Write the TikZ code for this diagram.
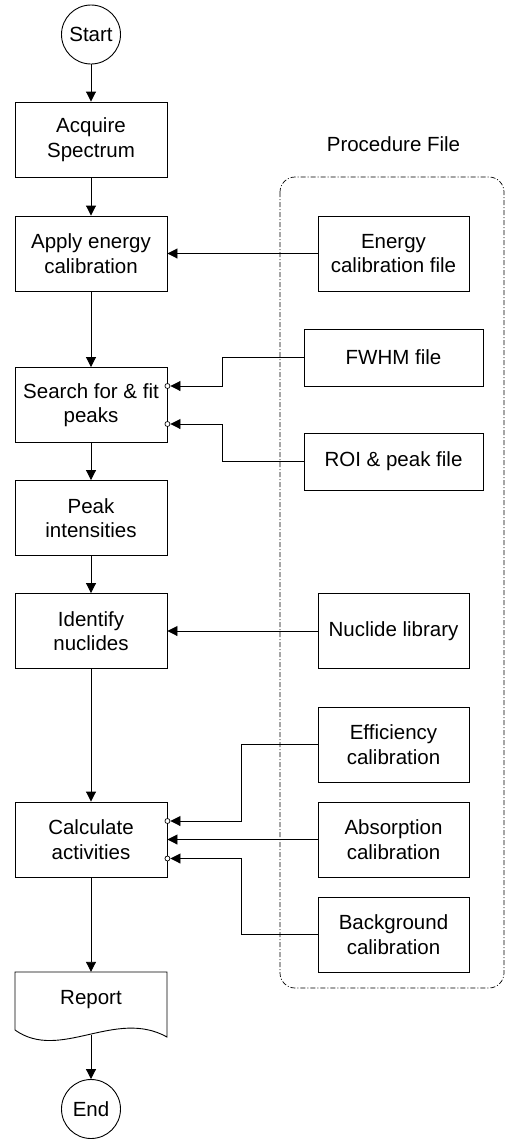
\documentclass[tikz,border=0pt]{standalone}
\usepackage{fontspec}
\setmainfont{Liberation Sans}
\usetikzlibrary{arrows.meta}
\begin{document}
\begin{tikzpicture}[x=1bp,y=-1bp,
  every node/.style={font=\fontsize{20.5bp}{24.5bp}\selectfont, align=center, inner sep=0pt},
  mainbox/.style={draw, line width=0.9bp, minimum width=152bp, minimum height=75bp},
  filebox/.style={draw, line width=0.9bp, minimum width=151bp, minimum height=75bp},
  widebox/.style={draw, line width=0.9bp, minimum width=179bp, minimum height=57bp},
  termnode/.style={draw, circle, line width=0.9bp, minimum size=59bp},
  arr/.style={line width=0.9bp, -{Triangle[length=10bp,width=10bp]}},
  dotc/.style={line width=0.7bp, fill=white},
  frame/.style={line width=0.7bp, dash pattern=on 5bp off 2bp on 1bp off 2bp, rounded corners=15bp}
]
\useasboundingbox (0,0) rectangle (506,1139);

% procedure file frame
\draw[frame] (280,177) rectangle (504,988);
\node (plabel) at (393.5,144) {Procedure File};

% main column
\node[termnode] (start) at (91,34.5) {Start};
\node[mainbox] (acq) at (91,139.5) {Acquire\\Spectrum};
\node[mainbox] (apply) at (91,253.5) {Apply energy\\calibration};
\node[mainbox] (search) at (91,405) {Search for \& fit\\peaks};
\node[mainbox] (peak) at (91,518) {Peak\\intensities};
\node[mainbox] (ident) at (91,631) {Identify\\nuclides};
\node[mainbox] (calc) at (91,839.5) {Calculate\\activities};
\node[minimum width=152bp, minimum height=56bp] (rep) at (91,1000) {Report};
\draw[line width=0.9bp] (15,1030) -- (15,972) -- (167,972) -- (167,1037)
  .. controls (115,1008) and (60,1062) .. (15,1030);
\coordinate (repb) at (91,1035);
\node[termnode] (end) at (91,1109) {End};

% right column
\node[filebox] (ecal) at (393.5,253.5) {Energy\\calibration file};
\node[widebox] (fwhm) at (393.5,357.5) {FWHM file};
\node[widebox] (roi) at (393.5,461.5) {ROI \& peak file};
\node[filebox] (nucl) at (393.5,631) {Nuclide library};
\node[filebox] (eff) at (393.5,744.5) {Efficiency\\calibration};
\node[filebox] (abs) at (393.5,839.5) {Absorption\\calibration};
\node[filebox] (bkg) at (393.5,934.5) {Background\\calibration};

% main flow
\draw[arr] (start) -- (acq);
\draw[arr] (acq) -- (apply);
\draw[arr] (apply) -- (search);
\draw[arr] (search) -- (peak);
\draw[arr] (peak) -- (ident);
\draw[arr] (ident) -- (calc);
\draw[arr] (calc) -- (rep.north);
\draw[arr] (repb) -- (end);

% inputs
\draw[arr] (ecal) -- (apply);
\draw[arr] (nucl) -- (ident);
\draw[arr] (abs) -- (calc);
\draw[arr] (fwhm.west) -- ++(-81,0) |- ([shift={(3bp,19bp)}]search.east);
\draw[dotc] ([yshift=19bp]search.east) circle (2.5bp);
\draw[arr] (roi.west) -- ++(-81,0) |- ([shift={(3bp,-19bp)}]search.east);
\draw[dotc] ([yshift=-19bp]search.east) circle (2.5bp);
\draw[arr] (eff.west) -- ++(-76,0) |- ([shift={(3bp,18.5bp)}]calc.east);
\draw[dotc] ([yshift=18.5bp]calc.east) circle (2.5bp);
\draw[arr] (bkg.west) -- ++(-76,0) |- ([shift={(3bp,-19bp)}]calc.east);
\draw[dotc] ([yshift=-19bp]calc.east) circle (2.5bp);
\end{tikzpicture}
\end{document}
